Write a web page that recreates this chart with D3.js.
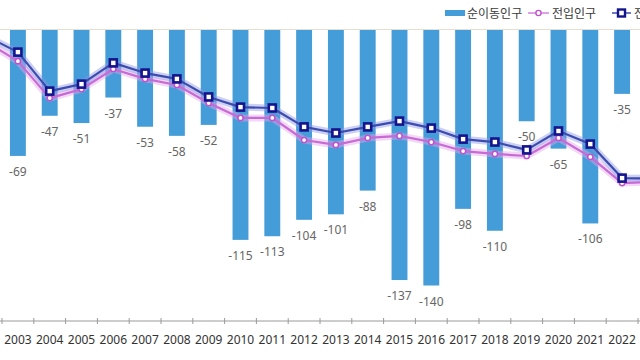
<!DOCTYPE html>
<html lang="ko">
<head>
<meta charset="utf-8">
<title>순이동인구</title>
<script src="https://d3js.org/d3.v7.min.js"></script>
<style>
body { margin: 0; background: #fff; }
svg { display: block; }
.yr { font-family: "Noto Sans", sans-serif; font-size: 12px; fill: #333; }
.lbl { font-family: "Noto Sans", sans-serif; font-size: 12px; fill: #666; }
.leg { font-family: "Noto Sans CJK KR", sans-serif; font-size: 12px; fill: #3a3a3a; }
</style>
</head>
<body>
<div id="chart"></div>
<script>
// years on the axis (2002 and 2023 fall just outside the crop)
var years = d3.range(2002, 2024).map(String);
var barYears = d3.range(2003, 2023).map(String);
// 순이동인구 (net migration)
var net = [-69, -47, -51, -37, -53, -58, -52, -115, -113, -104, -101, -88, -137, -140, -98, -110, -50, -65, -106, -35];
// 전입인구 / 전출인구 (right-hand scale, not shown)
var inflow  = [959, 893, 766, 797, 866, 832, 811, 749, 698, 698, 622, 605, 629, 636, 615, 584, 574, 567, 629, 564, 474, 478];
var outflow = [979, 924, 790, 814, 887, 852, 832, 770, 735, 732, 667, 646, 667, 687, 663, 625, 615, 588, 653, 608, 491, 490];

var w = 640, h = 360;
var axisY = 321;

var svg = d3.select("#chart").append("svg")
  .attr("width", w).attr("height", h);

// band scale: 2003 band starts at x=2, step ~31.8
var step = 31.8;
var x = d3.scaleBand().domain(years)
  .range([2 - step, 2 + (years.length - 1) * step])
  .padding(0);
var cx = function(d) { return x(d) + x.bandwidth() / 2; };
var barW = x.bandwidth() * 0.5;

var yBar = d3.scaleLinear().domain([0, -160]).range([30, 322]);
var yLine = d3.scaleLinear().domain([0, 1000]).range([axisY, 30]);

// top baseline
svg.append("line")
  .attr("x1", 0).attr("x2", w)
  .attr("y1", yBar(0) - 0.5).attr("y2", yBar(0) - 0.5)
  .attr("stroke", "#e6ddd0").attr("stroke-width", 1.2);

// bars
svg.selectAll("rect.bar")
  .data(net)
  .enter().append("rect")
  .attr("class", "bar")
  .attr("x", function(d, i) { return cx(barYears[i]) - barW / 2; })
  .attr("y", yBar(0))
  .attr("width", barW)
  .attr("height", function(d) { return yBar(d) - yBar(0); })
  .attr("fill", "#449cd8");

// bar labels
svg.selectAll("text.lbl")
  .data(net)
  .enter().append("text")
  .attr("class", "lbl")
  .attr("text-anchor", "middle")
  .attr("x", function(d, i) { return cx(barYears[i]); })
  .attr("y", function(d) { return yBar(d) + 20; })
  .text(function(d) { return d; });

// x axis
svg.append("line")
  .attr("x1", 0).attr("x2", w)
  .attr("y1", axisY).attr("y2", axisY)
  .attr("stroke", "#9a9a9a").attr("stroke-width", 1);
svg.selectAll("line.tick")
  .data(years)
  .enter().append("line")
  .attr("class", "tick")
  .attr("x1", function(d) { return x(d); })
  .attr("x2", function(d) { return x(d); })
  .attr("y1", axisY - 3).attr("y2", axisY + 3)
  .attr("stroke", "#9a9a9a");
svg.selectAll("text.yr")
  .data(barYears)
  .enter().append("text")
  .attr("class", "yr")
  .attr("text-anchor", "middle")
  .attr("x", cx)
  .attr("y", 344)
  .text(function(d) { return d; });

// lines
var line = d3.line()
  .x(function(d, i) { return cx(years[i]); })
  .y(function(d) { return yLine(d); });

function drawSeries(vals, halo, col) {
  svg.append("path").datum(vals)
    .attr("d", line).attr("fill", "none")
    .attr("stroke", halo).attr("stroke-width", 7)
    .attr("stroke-opacity", 0.45).attr("stroke-linejoin", "round");
  svg.append("path").datum(vals)
    .attr("d", line).attr("fill", "none")
    .attr("stroke", col).attr("stroke-width", 2.2)
    .attr("stroke-linejoin", "round");
}
drawSeries(inflow, "#e2a6ee", "#c86ad4");
drawSeries(outflow, "#8c96e6", "#3c4cae");

svg.selectAll("circle.in")
  .data(inflow)
  .enter().append("circle")
  .attr("class", "in")
  .attr("cx", function(d, i) { return cx(years[i]); })
  .attr("cy", function(d) { return yLine(d); })
  .attr("r", 2.6)
  .attr("fill", "#fff").attr("stroke", "#c050cc").attr("stroke-width", 1.5);

svg.selectAll("rect.out")
  .data(outflow)
  .enter().append("rect")
  .attr("class", "out")
  .attr("x", function(d, i) { return cx(years[i]) - 3.5; })
  .attr("y", function(d) { return yLine(d) - 3.5; })
  .attr("width", 7).attr("height", 7)
  .attr("fill", "#fff").attr("stroke", "#14148c").attr("stroke-width", 2.6);

// legend (last item runs off the right edge, as in the source)
var leg = svg.append("g");
leg.append("rect").attr("x", 445).attr("y", 10).attr("width", 20).attr("height", 6).attr("fill", "#449cd8");
leg.append("text").attr("class", "leg").attr("x", 467).attr("y", 17.5).text("순이동인구");
leg.append("line").attr("x1", 528).attr("x2", 549).attr("y1", 13).attr("y2", 13)
  .attr("stroke", "#d580dc").attr("stroke-width", 1.5);
leg.append("circle").attr("cx", 538.5).attr("cy", 13).attr("r", 2.6)
  .attr("fill", "#fff").attr("stroke", "#c050cc").attr("stroke-width", 1.4);
leg.append("text").attr("class", "leg").attr("x", 552).attr("y", 17.5).text("전입인구");
leg.append("line").attr("x1", 612).attr("x2", 631).attr("y1", 13).attr("y2", 13)
  .attr("stroke", "#3c4cae").attr("stroke-width", 1.5);
leg.append("rect").attr("x", 618).attr("y", 9.5).attr("width", 7).attr("height", 7)
  .attr("fill", "#fff").attr("stroke", "#14148c").attr("stroke-width", 2.4);
leg.append("text").attr("class", "leg").attr("x", 634).attr("y", 17.5).text("전출인구");
</script>
</body>
</html>
